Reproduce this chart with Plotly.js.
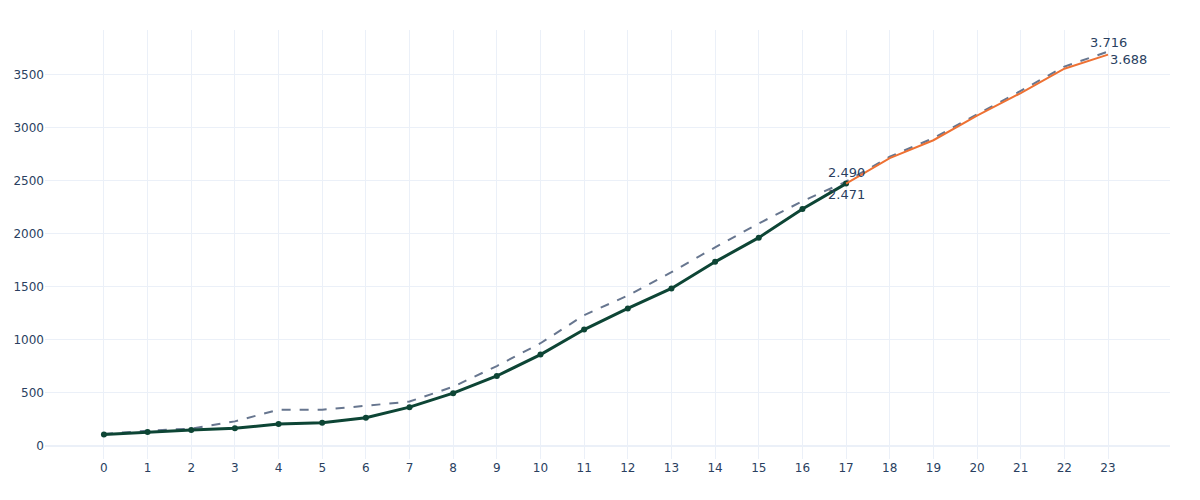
<!DOCTYPE html>
<html>
<head>
<meta charset="utf-8">
<script src="https://cdn.plot.ly/plotly-3.0.1.min.js"></script>
<style>html,body{margin:0;padding:0;background:#fff;}#chart{width:1200px;height:500px;}</style>
</head>
<body>
<div id="chart"></div>
<script>
// Actual values, steps 0..17
const actualX = [0,1,2,3,4,5,6,7,8,9,10,11,12,13,14,15,16,17];
const actualY = [105,128,146,162,203,215,262,362,494,656,858,1094,1293,1482,1733,1961,2231,2471];
// Forecast values, steps 17..23
const forecastX = [17,18,19,20,21,22,23];
const forecastY = [2471,2712,2880,3112,3325,3555,3688];
// Reference (dashed) values, steps 0..23
const refX = [0,1,2,3,4,5,6,7,8,9,10,11,12,13,14,15,16,17,18,19,20,21,22,23];
const refY = [110,140,160,228,338,338,375,415,555,750,965,1230,1415,1635,1870,2095,2305,2490,2725,2900,3125,3345,3575,3716];
const xTicks = [0,1,2,3,4,5,6,7,8,9,10,11,12,13,14,15,16,17,18,19,20,21,22,23];

function fmt(v){
  const s = String(Math.round(v));
  return s.replace(/\B(?=(\d{3})+(?!\d))/g, '.');
}

const textColor = '#2a3f5f';
const lastA = actualY.length - 1;
const lastF = forecastY.length - 1;
const lastR = refY.length - 1;

const traces = [
  {x: refX, y: refY, mode: 'lines', line: {color: '#67768f', width: 2, dash: 'dash'}, hoverinfo: 'skip', showlegend: false},
  {x: actualX, y: actualY, mode: 'lines+markers', line: {color: '#0d4535', width: 3}, marker: {color: '#0d4535', size: 6}, showlegend: false},
  {x: forecastX, y: forecastY, mode: 'lines', line: {color: '#ee7133', width: 2}, showlegend: false}
];

const annFont = {color: textColor, size: 13};
const annotations = [
  {x: refX[17], y: refY[17], text: fmt(refY[17]), showarrow: false, xanchor: 'center', yanchor: 'bottom', yshift: 0, font: annFont},
  {x: actualX[lastA], y: actualY[lastA], text: fmt(actualY[lastA]), showarrow: false, xanchor: 'center', yanchor: 'top', yshift: -1, font: annFont},
  {x: refX[lastR], y: refY[lastR], text: fmt(refY[lastR]), showarrow: false, xanchor: 'center', yanchor: 'bottom', yshift: 0, font: annFont},
  {x: forecastX[lastF], y: forecastY[lastF], text: fmt(forecastY[lastF]), showarrow: false, xanchor: 'left', yanchor: 'middle', yshift: -5, xshift: 0, font: annFont}
];

const layout = {
  width: 1200, height: 500,
  margin: {l: 45, r: 30, t: 30, b: 41},
  paper_bgcolor: '#ffffff', plot_bgcolor: '#ffffff',
  font: {family: '"DejaVu Sans", Verdana, sans-serif', size: 12, color: textColor},
  showlegend: false,
  annotations: annotations,
  xaxis: {
    range: [-1.35, 24.42], tickmode: 'array', tickvals: xTicks, ticktext: xTicks.map(String),
    gridcolor: '#EBF0F8', showline: false, zeroline: false, ticks: '', automargin: false
  },
  yaxis: {
    range: [-127, 3920], dtick: 500, tick0: 0,
    gridcolor: '#EBF0F8', zeroline: true, zerolinecolor: '#EBF0F8', zerolinewidth: 2, showline: false, ticks: '', automargin: false
  }
};

Plotly.newPlot('chart', traces, layout, {displayModeBar: false, staticPlot: true});
</script>
</body>
</html>
